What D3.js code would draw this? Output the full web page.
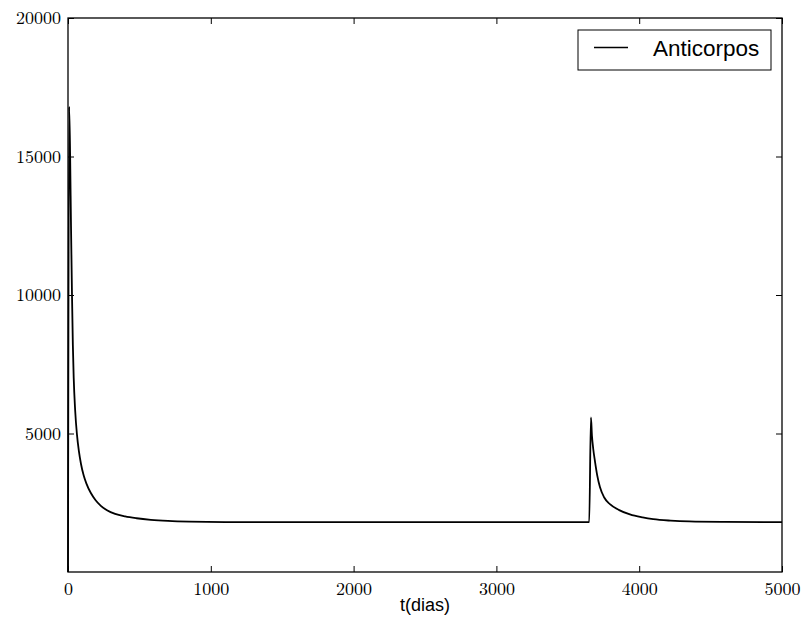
<!DOCTYPE html>
<html>
<head>
<meta charset="utf-8">
<script src="https://cdn.jsdelivr.net/npm/d3@7"></script>
<style>
html,body{margin:0;padding:0;background:#fff;}
svg{display:block;}
</style>
</head>
<body>
<svg id="chart" width="803" height="618"></svg>
<script>
// Data
const seriesName = "Anticorpos";
const tDias = [0, 8, 15, 21, 28, 34, 40, 50, 63, 76, 91, 110, 129, 160, 192, 230, 273, 330, 400, 480, 580, 700, 850, 1100,
  3650, 3662, 3669, 3678, 3690, 3706, 3725, 3755, 3795, 3860, 3935, 4024, 4098, 4220, 4350, 4600, 5000];
const anticorpos = [0, 16800, 15000, 12500, 10000, 8200, 7000, 5850, 4950, 4370, 3900, 3480, 3190, 2850, 2600, 2390, 2230, 2095, 2005, 1940, 1885, 1845, 1818, 1802,
  1800, 5580, 4930, 4450, 4005, 3490, 3065, 2690, 2450, 2235, 2077, 1970, 1908, 1855, 1825, 1808, 1800];
const xTicks = [0, 1000, 2000, 3000, 4000, 5000];
const yTicks = [5000, 10000, 15000, 20000];
const xLabel = "t(dias)";

const margin = {left: 68, right: 21, top: 18, bottom: 46};
const W = 803, H = 618;
const xScale = d3.scaleLinear().domain([0, 5000]).range([margin.left, W - margin.right]);
const yScale = d3.scaleLinear().domain([0, 20000]).range([H - margin.bottom, margin.top]);

const svg = d3.select("#chart");
const serif = "'Latin Modern Roman','CMU Serif','Liberation Serif','DejaVu Serif',serif";
const sans = "'Liberation Sans',Arial,Helvetica,sans-serif";

const data = tDias.map((t, i) => ({t, v: anticorpos[i]}));

// curve
const lineGen = d3.line().x(d => xScale(d.t)).y(d => yScale(d.v)).curve(d3.curveMonotoneX);
svg.append("path").datum(data)
  .attr("d", lineGen)
  .attr("fill", "none").attr("stroke", "#000").attr("stroke-width", 1.8)
  .attr("stroke-linejoin", "round");

// axes (ticks inward on all four sides)
const tl = 6;
const gBottom = svg.append("g").attr("transform", `translate(0,${yScale(0)})`)
  .call(d3.axisBottom(xScale).tickValues(xTicks).tickSizeInner(-tl).tickSizeOuter(0).tickPadding(10).tickFormat(d3.format("d")));
const gTop = svg.append("g").attr("transform", `translate(0,${yScale(20000)})`)
  .call(d3.axisTop(xScale).tickValues(xTicks).tickSizeInner(-tl).tickSizeOuter(0).tickFormat(""));
const gLeft = svg.append("g").attr("transform", `translate(${xScale(0)},0)`)
  .call(d3.axisLeft(yScale).tickValues(yTicks).tickSizeInner(-tl).tickSizeOuter(0).tickPadding(7).tickFormat(d3.format("d")));
const gRight = svg.append("g").attr("transform", `translate(${xScale(5000)},0)`)
  .call(d3.axisRight(yScale).tickValues(yTicks).tickSizeInner(-tl).tickSizeOuter(0).tickFormat(""));

[gBottom, gTop, gLeft, gRight].forEach(g => {
  g.select(".domain").remove();
  g.selectAll(".tick line").attr("stroke", "#000").attr("stroke-width", 1);
  g.selectAll("text").attr("font-family", serif).attr("font-size", 18).attr("fill", "#000");
});

// frame
svg.append("rect")
  .attr("x", xScale(0)).attr("y", yScale(20000))
  .attr("width", xScale(5000) - xScale(0)).attr("height", yScale(0) - yScale(20000))
  .attr("fill", "none").attr("stroke", "#000").attr("stroke-width", 1.3);

// x label
svg.append("text").attr("x", (xScale(0) + xScale(5000)) / 2).attr("y", 611)
  .attr("text-anchor", "middle").attr("font-family", sans).attr("font-size", 18)
  .text(xLabel);

// legend
const lg = svg.append("g");
lg.append("rect").attr("x", 578).attr("y", 30).attr("width", 193).attr("height", 40)
  .attr("fill", "#fff").attr("stroke", "#000").attr("stroke-width", 1);
lg.append("line").attr("x1", 594).attr("x2", 628).attr("y1", 47.5).attr("y2", 47.5)
  .attr("stroke", "#000").attr("stroke-width", 1.3);
lg.append("text").attr("x", 653).attr("y", 56).attr("font-family", sans).attr("font-size", 22.5)
  .text(seriesName);
</script>
</body>
</html>
